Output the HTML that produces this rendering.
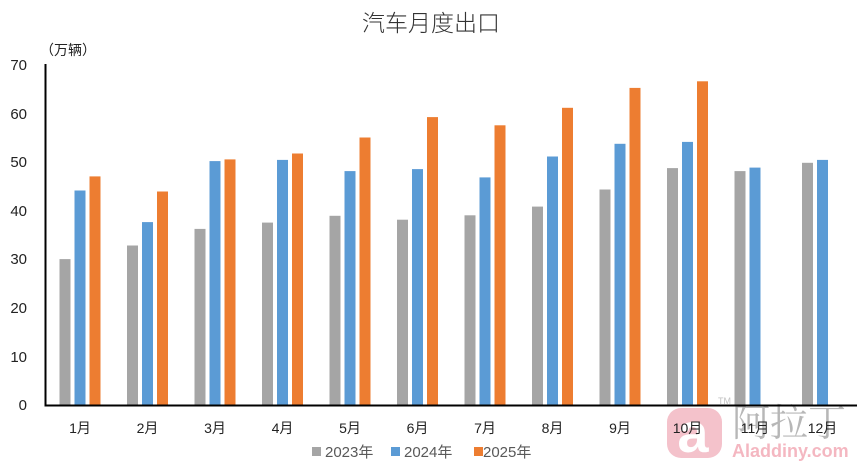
<!DOCTYPE html>
<html><head><meta charset="utf-8"><style>
html,body{margin:0;padding:0;background:#fff;}
svg{display:block;}
text{font-family:"Liberation Sans","Noto Sans CJK SC",sans-serif;}
</style></head><body>
<svg width="865" height="470" viewBox="0 0 865 470" xmlns="http://www.w3.org/2000/svg">
<rect width="865" height="470" fill="#fff"/>
<text x="431" y="31" font-size="23" fill="#333" text-anchor="middle" style="font-family:'Noto Sans CJK SC',sans-serif;font-weight:300">汽车月度出口</text>
<text x="40" y="55" font-size="14" fill="#222" style="font-family:'Noto Sans CJK SC',sans-serif">（万辆）</text>
<g font-size="15" fill="#222" text-anchor="end">
<text x="27" y="70">70</text>
<text x="27" y="119">60</text>
<text x="27" y="167">50</text>
<text x="27" y="216">40</text>
<text x="27" y="264">30</text>
<text x="27" y="313">20</text>
<text x="27" y="362">10</text>
<text x="27" y="410">0</text>
</g>
<g fill="#A5A5A5">
<rect x="59.5" y="259.1" width="11" height="146.4"/>
<rect x="127" y="245.5" width="11" height="160"/>
<rect x="194.5" y="228.9" width="11" height="176.6"/>
<rect x="262" y="222.6" width="11" height="182.9"/>
<rect x="329.5" y="215.8" width="11" height="189.7"/>
<rect x="397" y="219.7" width="11" height="185.8"/>
<rect x="464.5" y="215.3" width="11" height="190.2"/>
<rect x="532" y="206.6" width="11" height="198.9"/>
<rect x="599.5" y="189.5" width="11" height="216"/>
<rect x="667" y="168.1" width="11" height="237.4"/>
<rect x="734.5" y="171.1" width="11" height="234.4"/>
<rect x="802" y="162.8" width="11" height="242.7"/>
</g>
<g fill="#5B9BD5">
<rect x="74.5" y="190.5" width="11" height="215"/>
<rect x="142" y="222.1" width="11" height="183.4"/>
<rect x="209.5" y="161.1" width="11" height="244.4"/>
<rect x="277" y="159.9" width="11" height="245.6"/>
<rect x="344.5" y="171.1" width="11" height="234.4"/>
<rect x="412" y="169.1" width="11" height="236.4"/>
<rect x="479.5" y="177.4" width="11" height="228.1"/>
<rect x="547" y="156.5" width="11" height="249"/>
<rect x="614.5" y="143.8" width="11" height="261.7"/>
<rect x="682" y="141.9" width="11" height="263.6"/>
<rect x="749.5" y="167.6" width="11" height="237.9"/>
<rect x="817" y="159.9" width="11" height="245.6"/>
</g>
<g fill="#ED7D31">
<rect x="89.5" y="176.4" width="11" height="229.1"/>
<rect x="157" y="191.5" width="11" height="214"/>
<rect x="224.5" y="159.4" width="11" height="246.1"/>
<rect x="292" y="153.5" width="11" height="252"/>
<rect x="359.5" y="137.5" width="11" height="268"/>
<rect x="427" y="117.1" width="11" height="288.4"/>
<rect x="494.5" y="125.3" width="11" height="280.2"/>
<rect x="562" y="107.8" width="11" height="297.7"/>
<rect x="629.5" y="87.9" width="11" height="317.6"/>
<rect x="697" y="81.3" width="11" height="324.2"/>
</g>
<g opacity="0.6">
<rect x="667" y="408" width="55" height="50" rx="14" fill="#ee9aaa"/>
<text x="693" y="452" font-size="56" fill="#fff" text-anchor="middle" font-weight="bold" style="font-family:'Liberation Sans',sans-serif">a</text>
<text x="718" y="404" font-size="9" fill="#999">TM</text>
<text x="732" y="436" font-size="38" fill="#888" style="font-family:'Noto Serif CJK SC',serif">阿拉丁</text>
<text x="732" y="457" font-size="18" fill="#ee8898" font-weight="bold" style="font-family:'Liberation Sans',sans-serif">Aladdiny.com</text>
</g>
<line x1="45.5" y1="64" x2="45.5" y2="406" stroke="#000" stroke-width="2"/>
<line x1="44.5" y1="405.5" x2="857" y2="405.5" stroke="#000" stroke-width="2"/>
<g font-size="14" fill="#222" text-anchor="middle" style="font-family:'Liberation Sans','Noto Sans CJK SC',sans-serif">
<text x="80" y="433">1月</text>
<text x="147.5" y="433">2月</text>
<text x="215" y="433">3月</text>
<text x="282.5" y="433">4月</text>
<text x="350" y="433">5月</text>
<text x="417.5" y="433">6月</text>
<text x="485" y="433">7月</text>
<text x="552.5" y="433">8月</text>
<text x="620" y="433">9月</text>
<text x="687.5" y="433">10月</text>
<text x="755" y="433">11月</text>
<text x="822.5" y="433">12月</text>
</g>
<g font-size="15" fill="#595959">
<rect x="312" y="447" width="9" height="9" fill="#A5A5A5"/>
<text x="325" y="457">2023年</text>
<rect x="391" y="447" width="9" height="9" fill="#5B9BD5"/>
<text x="404" y="457">2024年</text>
<rect x="474" y="447" width="9" height="9" fill="#ED7D31"/>
<text x="483" y="457">2025年</text>
</g>
</svg>
</body></html>
